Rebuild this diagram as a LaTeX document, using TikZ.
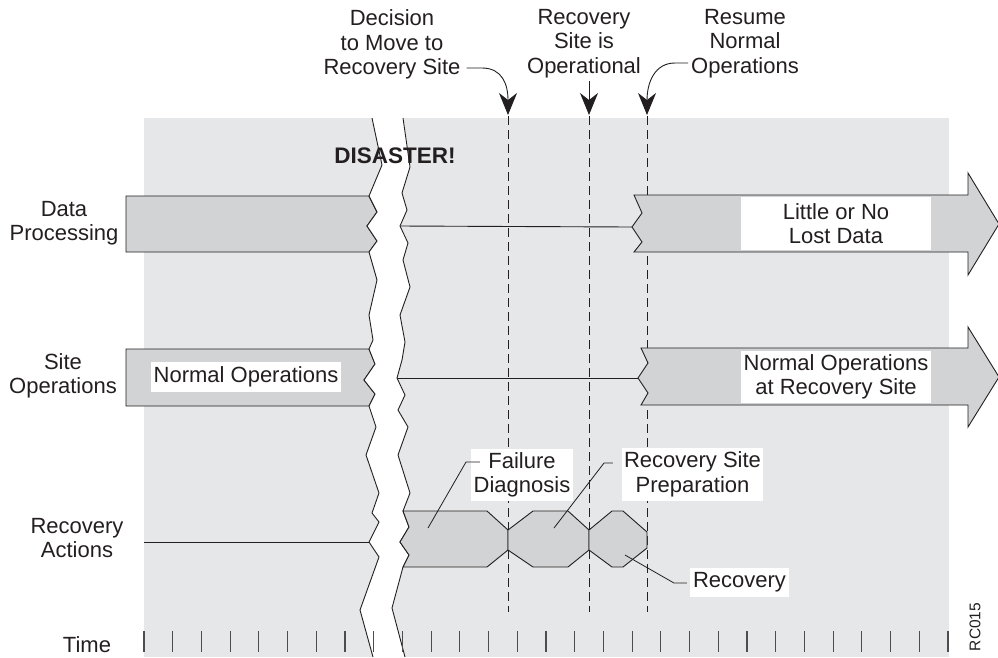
\documentclass[tikz,border=0pt]{standalone}
\usepackage{fontspec}
\setmainfont{Liberation Sans}
\usetikzlibrary{arrows.meta}
\definecolor{bg}{HTML}{E6E7E8}
\definecolor{barfill}{HTML}{D1D3D4}
\definecolor{ink}{HTML}{231F20}
\definecolor{tickc}{HTML}{4D4D4D}
\begin{document}
\begin{tikzpicture}[x=1pt,y=-1pt,
  lbl/.style={font=\fontsize{22}{24.5}\selectfont, text=ink, align=center, inner sep=0pt},
  wbox/.style={lbl, fill=white},
  outline/.style={draw=ink, line width=0.9pt, line join=miter},
  barshape/.style={outline, fill=barfill},
  thinline/.style={draw=ink, line width=0.9pt},
  dashline/.style={draw=ink, line width=0.9pt, dash pattern=on 9pt off 5pt},
  tickline/.style={draw=tickc, line width=1.2pt},
  pointer/.style={draw=ink, line width=0.9pt, -{Stealth[length=22pt,width=18pt,inset=7pt]}},
  leader/.style={draw=ink, line width=0.8pt}]
\useasboundingbox (0,0) rectangle (998,657);
% background
\fill[bg] (144,118) rectangle (949,657);
% left bars
\path[barshape] (126,196) -- (369,196) -- (377,212) -- (367,226) -- (377,241) -- (369,252) -- (126,252) -- cycle;
\path[barshape] (126,349) -- (369,349) -- (375,364) -- (364,380) -- (375,394) -- (369,406) -- (126,406) -- cycle;
% break band
\fill[white] (372,118) -- (382,165) -- (369,196) -- (377,212) -- (367,226) -- (377,241) -- (369,252) -- (377,280) -- (369,315) -- (373,340) -- (369,349) -- (375,364) -- (364,380) -- (375,394) -- (369,406) -- (376,427) -- (366,455) -- (379,493) -- (372,513) -- (379,522) -- (369,542) -- (379,557) -- (360,610) -- (373,657)
  -- (405,657) -- (392,608) -- (403,567) -- (409,555) -- (400,542) -- (409,527) -- (403,511) -- (410,493) -- (398,455) -- (408,427) -- (398,410) -- (405,395) -- (397,378) -- (402,360) -- (405,342) -- (400,315) -- (410,287) -- (403,260) -- (408,243) -- (400,226) -- (407,210) -- (402,193) -- (410,167) -- (403,118) -- cycle;
\draw[thinline] (372,118) -- (382,165) -- (369,196) -- (377,212) -- (367,226) -- (377,241) -- (369,252) -- (377,280) -- (369,315) -- (373,340) -- (369,349) -- (375,364) -- (364,380) -- (375,394) -- (369,406) -- (376,427) -- (366,455) -- (379,493) -- (372,513) -- (379,522) -- (369,542) coordinate (Lrec) -- (379,557) -- (360,610) -- (373,657);
\draw[thinline] (403,118) -- (410,167) -- (402,193) -- (407,210) -- (400,226) coordinate (Rdp) -- (408,243) -- (403,260) -- (410,287) -- (400,315) -- (405,342) -- (402,360) -- (397,378) coordinate (Rso) -- (405,395) -- (398,410) -- (408,427) -- (398,455) -- (410,493) -- (403,511) -- (409,527) -- (400,542) -- (409,555) -- (403,567) -- (392,608) -- (405,657);
% timeline connectors
\coordinate (DPa) at (632,227);
\coordinate (SOa) at (638,378);
\coordinate (RAstart) at (144,542);
\draw[thinline] (Rdp) -- (DPa);
\draw[thinline] (Rso) -- (SOa);
\draw[thinline] (RAstart) -- (Lrec);
% dashed milestone lines
\coordinate (m1) at (508,116); \coordinate (m1b) at (508,612);
\coordinate (m2) at (589,116); \coordinate (m2b) at (589,612);
\coordinate (m3) at (647,116); \coordinate (m3b) at (647,612);
\draw[dashline] (m1) -- (m1b);
\draw[dashline] (m2) -- (m2b);
\draw[dashline] (m3) -- (m3b);
% recovery action shapes
\path[barshape] (403,511) -- (487,511) -- (508,530) -- (508,550) -- (487,567) -- (403,567) -- (409,555) -- (400,542) -- (409,527) -- cycle;
\path[barshape] (508,530) -- (533,511) -- (568,511) -- (589,530) -- (589,550) -- (568,567) -- (533,567) -- (508,550) -- cycle;
\path[barshape] (589,530) -- (612,511) -- (623,511) -- (647,532) -- (647,548) -- (623,567) -- (612,567) -- (589,550) -- cycle;
% right arrows
\path[barshape] (634,195) -- (968,195) -- (968,173) -- (999,224) -- (968,275) -- (968,252) -- (634,252) -- (642,242) -- (632,227) -- (642,213) -- cycle;
\path[barshape] (641,348) -- (968,348) -- (968,327) -- (999,377) -- (968,427) -- (968,405) -- (641,405) -- (648,393) -- (638,378) -- (648,363) -- cycle;
% white label boxes
\node[wbox, minimum width=190pt, minimum height=30pt] (nobox) at (246,377) {Normal Operations};
\node[wbox, minimum width=190pt, minimum height=53pt] (lost) at (836,223.5) {Little or No\\Lost Data};
\node[wbox, minimum width=190pt, minimum height=52pt] (nors) at (836,377) {Normal Operations\\at Recovery Site};
\node[wbox, minimum width=102pt, minimum height=52pt] (fail) at (522,475) {Failure\\Diagnosis};
\node[wbox, minimum width=141pt, minimum height=53pt] (prep) at (692.5,474.5) {Recovery Site\\Preparation};
\node[wbox, minimum width=99pt, minimum height=29pt] (recv) at (739.5,582.5) {Recovery};
% leaders
\coordinate (f1) at (466,462); \coordinate (f2) at (428,528);
\coordinate (p1) at (604,463); \coordinate (p2) at (554,528);
\coordinate (r1) at (674,583); \coordinate (r2) at (625,555);
\draw[leader] (fail.west |- f1) ++(9,0) -- (f1) -- (f2);
\draw[leader] (prep.west |- p1) ++(-9,0) -- (p1) -- (p2);
\draw[leader] (recv.west |- r1) ++(-3,0) -- (r1) -- (r2);
% ticks
\foreach \i in {0,...,28} \draw[tickline] ({144+28.714*\i},631) -- ++(0,21);
% top labels and pointers
\node[lbl] (dec) at (392,44.5) {Decision\\to Move to\\Recovery Site};
\node[lbl] (oper) at (584,43.6) {Recovery\\Site is\\Operational};
\node[lbl] (resume) at (745,43.6) {Resume\\Normal\\Operations};
\coordinate (a1) at (508,115); \coordinate (a2) at (589,115); \coordinate (a3) at (647,115);
\draw[pointer] (dec.east |- 0,68) ++(6,0) -- (482,68) .. controls (502,68) and (508,84) .. (a1);
\draw[pointer] (oper.south) ++(5,3) -- (a2);
\draw[pointer] (resume.west |- 0,63) ++(-3,0) -- (675,63) .. controls (655,63) and (647,82) .. (a3);
% left labels
\node[lbl] (dp) at (64,223) {Data\\Processing};
\node[lbl] (so) at (63,376) {Site\\Operations};
\node[lbl] (ra) at (77,538) {Recovery\\Actions};
\node[lbl] (time) at (87,644.5) {Time};
\node[lbl, font=\bfseries\fontsize{22.5}{24}\selectfont] (dis) at (395,155.5) {DISASTER!};
\node[lbl, font=\fontsize{15.5}{18}\selectfont, rotate=90] (rc) at (975,627) {RC015};
\end{tikzpicture}
\end{document}
